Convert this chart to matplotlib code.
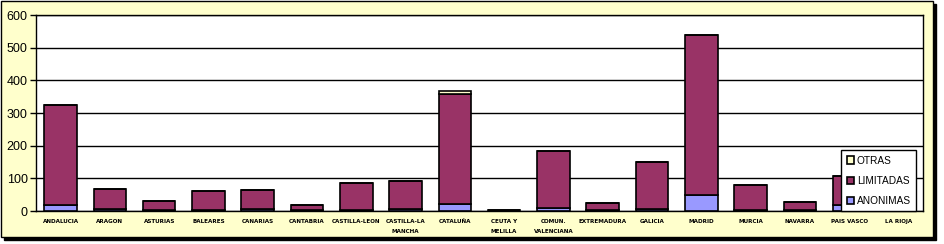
import numpy as np
import matplotlib.pyplot as plt
from matplotlib.patches import Rectangle

regiones = ["ANDALUCIA", "ARAGON", "ASTURIAS", "BALEARES", "CANARIAS", "CANTABRIA",
            "CASTILLA-LEON", "CASTILLA-LA\nMANCHA", "CATALUÑA", "CEUTA Y\nMELILLA",
            "COMUN.\nVALENCIANA", "EXTREMADURA", "GALICIA", "MADRID", "MURCIA",
            "NAVARRA", "PAIS VASCO", "LA RIOJA"]
anonimas = [19, 7, 3, 4, 7, 3, 2, 6, 22, 0, 10, 3, 6, 50, 2, 2, 18, 2]
limitadas = [305, 59, 27, 56, 56, 14, 83, 85, 337, 2, 173, 21, 143, 489, 77, 25, 88, 10]
otras = [0, 0, 0, 0, 0, 0, 0, 0, 8, 0, 0, 0, 0, 1, 0, 0, 0, 0]

W, H = 944, 244
fig = plt.figure(figsize=(W / 100, H / 100), dpi=100, facecolor="white")

# frame with shadow
fig.patches.append(Rectangle((4 / W, 4 / H), 932 / W, 236 / H, transform=fig.transFigure,
                             facecolor="black", edgecolor="black", zorder=-2))
fig.patches.append(Rectangle((1 / W, 7 / H), 932 / W, 236 / H, transform=fig.transFigure,
                             facecolor="#FFFFCC", edgecolor="black", linewidth=1, zorder=-1))

ax = fig.add_axes([36 / W, 1 - 211 / H, 887 / W, 196 / H])
ax.set_facecolor("white")

x = np.arange(len(regiones))
an = np.array(anonimas)
li = np.array(limitadas)
ot = np.array(otras)
kw = dict(width=0.66, edgecolor="black", linewidth=1.2, zorder=3)
ax.bar(x, an, color="#9999FF", label="ANONIMAS", **kw)
ax.bar(x, li, bottom=an, color="#993366", label="LIMITADAS", **kw)
ax.bar(x, ot, bottom=an + li, color="#FFFFCC", label="OTRAS", **kw)

ax.set_xlim(-0.5, len(regiones) - 0.5)
ax.set_ylim(0, 600)
ax.set_yticks(range(0, 601, 100))
ax.yaxis.grid(True, color="black", linewidth=1, zorder=1)
ax.set_axisbelow(True)
for s in ax.spines.values():
    s.set_color("black")
    s.set_linewidth(1)
ax.tick_params(axis="y", length=4, width=1, labelsize=9, pad=2)
ax.tick_params(axis="x", length=0, pad=6)
ax.set_xticks(x)
ax.set_xticklabels(regiones, fontsize=4.1, fontweight="bold", linespacing=2.1, va="top")
for lab in ax.get_yticklabels():
    lab.set_family("Liberation Sans")

h, l = ax.get_legend_handles_labels()
leg = ax.legend(h[::-1], l[::-1], loc="lower right", bbox_to_anchor=(0.9925, -0.002),
                frameon=True, fancybox=False, edgecolor="black", framealpha=1,
                prop={"family": "Liberation Sans", "size": 7.3}, handlelength=0.7,
                handleheight=0.7, handletextpad=0.3, labelspacing=1.0,
                borderpad=0.55, borderaxespad=0)
leg.get_frame().set_linewidth(1)
leg.set_zorder(10)

fig.savefig("out.png", dpi=100, facecolor=fig.get_facecolor())
